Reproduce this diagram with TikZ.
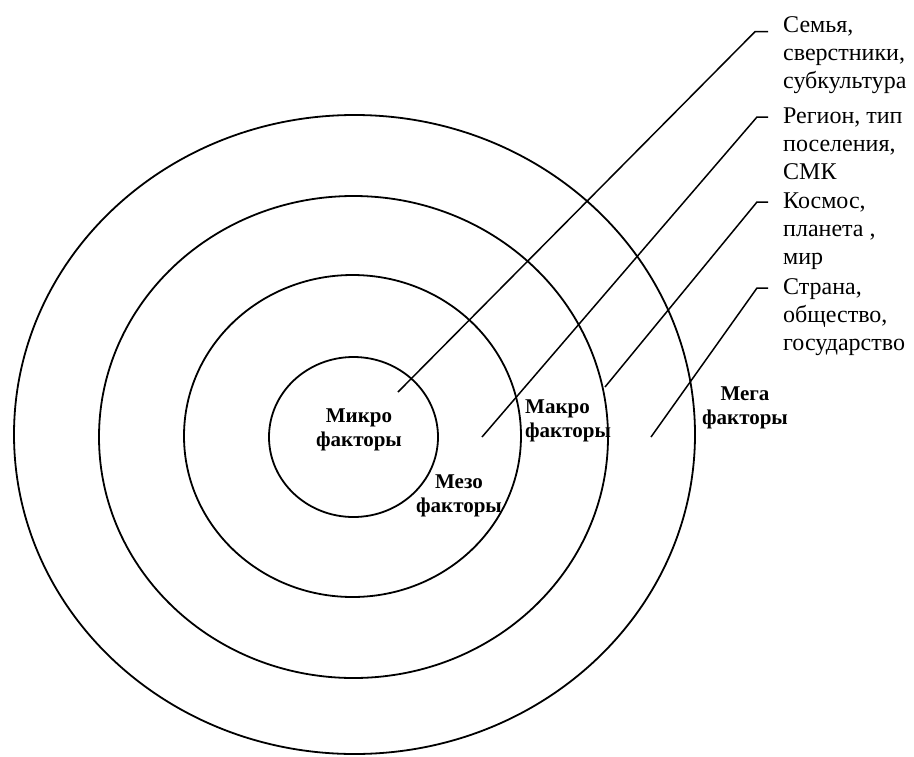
\documentclass[tikz,border=0pt]{standalone}
\usepackage{fontspec}
\setmainfont{Liberation Serif}
\usetikzlibrary{shapes.geometric}
\begin{document}
\begin{tikzpicture}[x=1pt,y=-1pt,
  ring/.style={ellipse, draw, line width=1.8pt, inner sep=0pt},
  lead/.style={line width=1.5pt},
  side/.style={font=\fontsize{24}{28}\selectfont, anchor=base west, inner sep=0pt},
  zone/.style={font=\fontsize{21}{24.5}\selectfont\bfseries, inner sep=0pt}]
\useasboundingbox (0,0) rectangle (914,756);
% rings
\node[ring, minimum width=681, minimum height=639] (mega)  at (354.5,434.5) {};
\node[ring, minimum width=509, minimum height=482] (macro) at (353.5,437) {};
\node[ring, minimum width=337, minimum height=322] (meso)  at (352.5,436) {};
\node[ring, minimum width=169, minimum height=160] (micro) at (353.5,437) {};
% zone labels
\node[zone, anchor=base] (tmicro) at (359,422) {\begin{tabular}[t]{@{}c@{}}Микро\\факторы\end{tabular}};
\node[zone, anchor=base] (tmeso) at (459,488) {\begin{tabular}[t]{@{}c@{}}Мезо\\факторы\end{tabular}};
\node[zone, anchor=base west] (tmacro) at (525,413) {\begin{tabular}[t]{@{}l@{}}Макро\\факторы\end{tabular}};
\node[zone, anchor=base] (tmega) at (745,400) {\begin{tabular}[t]{@{}c@{}}Мега\\факторы\end{tabular}};
% side labels
\node[side] (s1) at (783,32) {\begin{tabular}[t]{@{}l@{}}Семья,\\сверстники,\\субкультура\end{tabular}};
\node[side] (s2) at (783,123) {\begin{tabular}[t]{@{}l@{}}Регион, тип\\поселения,\\СМК\end{tabular}};
\node[side] (s3) at (783,208) {\begin{tabular}[t]{@{}l@{}}Космос,\\планета ,\\мир\end{tabular}};
\node[side] (s4) at (783,294) {\begin{tabular}[t]{@{}l@{}}Страна,\\общество,\\государство\end{tabular}};
% leader coordinates
\coordinate (e1) at (398,392);
\coordinate (c1) at (755,31.7);
\coordinate (t1) at (768,31.7);
\coordinate (e2) at (482,437);
\coordinate (c2) at (757,117);
\coordinate (t2) at (768,117);
\coordinate (e3) at (605,387);
\coordinate (c3) at (757,202);
\coordinate (t3) at (768,202);
\coordinate (e4) at (651,437);
\coordinate (c4) at (757,288);
\coordinate (t4) at (768,288);
\draw[lead] (e1) -- (c1) -- (t1);
\draw[lead] (e2) -- (c2) -- (t2);
\draw[lead] (e3) -- (c3) -- (t3);
\draw[lead] (e4) -- (c4) -- (t4);
\end{tikzpicture}
\end{document}
